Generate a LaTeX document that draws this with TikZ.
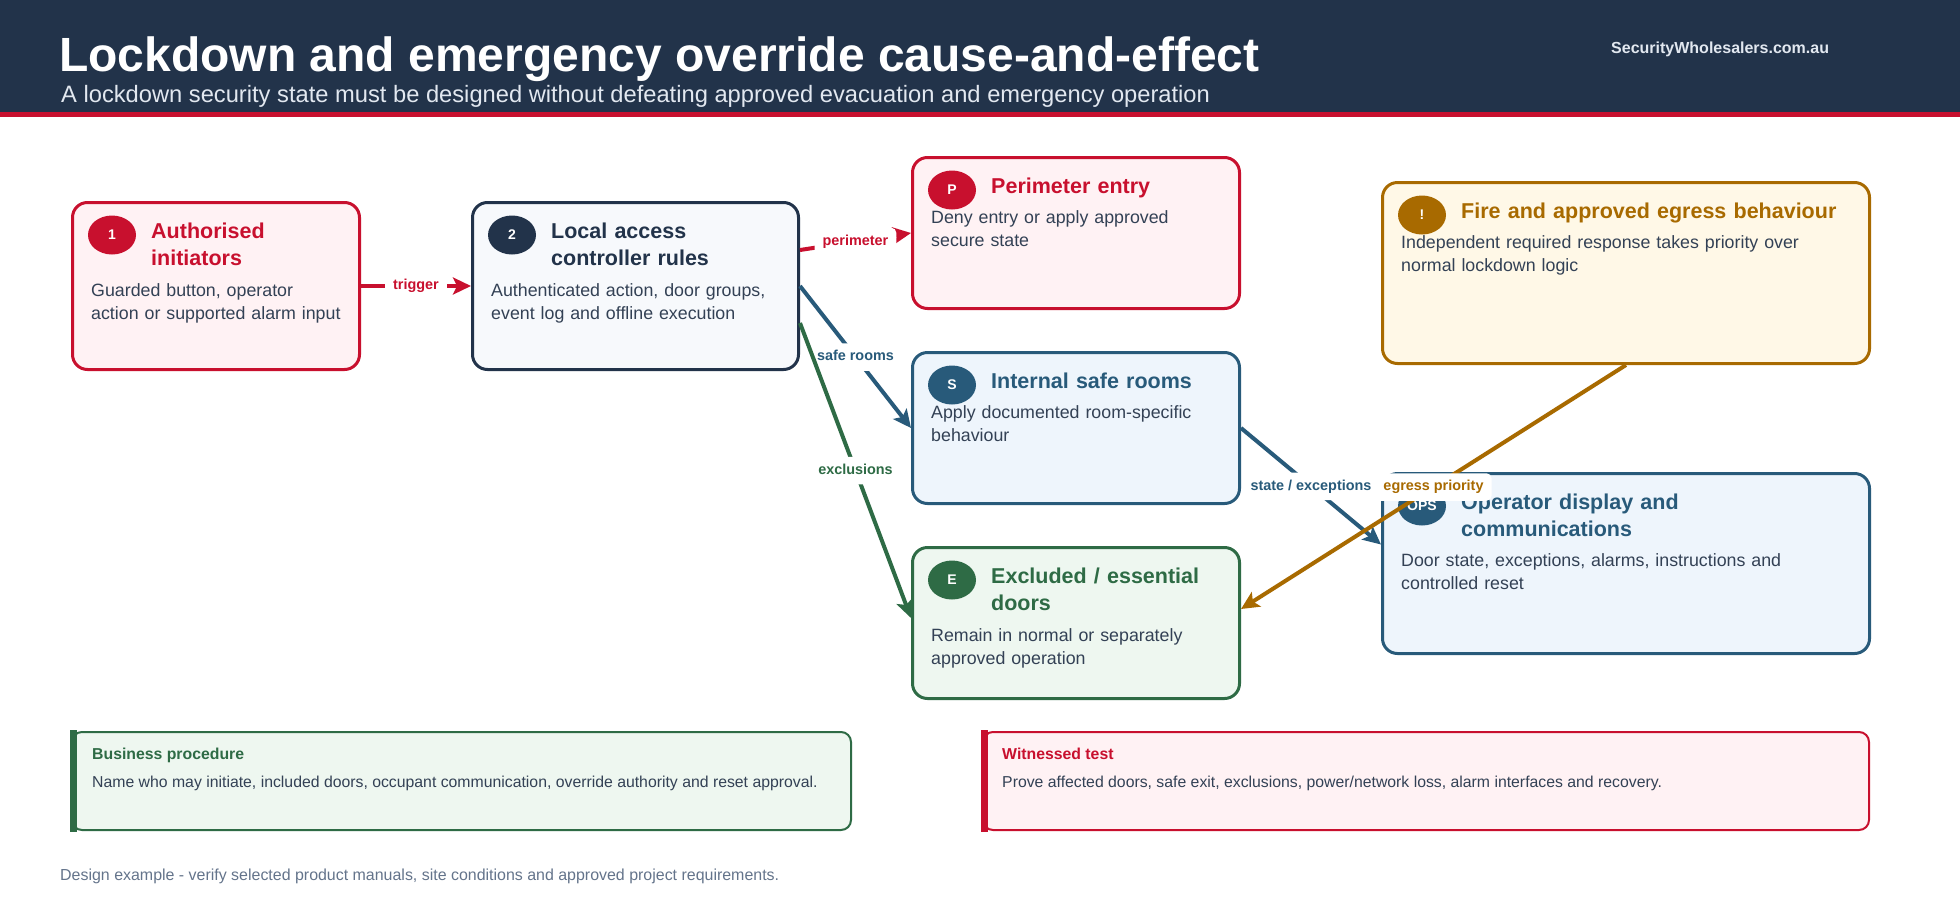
\documentclass[tikz,border=0pt]{standalone}
\usepackage{fontspec}
\setmainfont{Liberation Sans}
\usepackage{xcolor}
\usepackage{tikz}
\usetikzlibrary{arrows.meta, shapes.geometric, positioning}

\definecolor{navy}{HTML}{22334A}
\definecolor{alertred}{HTML}{C8102E}
\definecolor{steel}{HTML}{285A7A}
\definecolor{leaf}{HTML}{2E6B45}
\definecolor{amber}{HTML}{A86A00}
\definecolor{slate}{HTML}{334155}
\definecolor{mute}{HTML}{64748B}
\definecolor{pale}{HTML}{E2E8F0}
\definecolor{redfill}{HTML}{FFF2F4}
\definecolor{navyfill}{HTML}{F7F9FC}
\definecolor{steelfill}{HTML}{EEF5FC}
\definecolor{leaffill}{HTML}{EEF7F0}
\definecolor{amberfill}{HTML}{FFF8E7}

\begin{document}
\begin{tikzpicture}[
    x=1pt, y=-1pt,
    card/.style   = {rectangle, line width=3pt, rounded corners=15pt,
                     anchor=north west, inner sep=0pt},
    badge/.style  = {ellipse, minimum width=48pt, minimum height=39pt,
                     inner sep=0pt, text=white,
                     font=\bfseries\fontsize{14}{14}\selectfont},
    ctitle/.style = {anchor=base west, inner sep=0pt, text width=420pt,
                     align=left, font=\bfseries\fontsize{21.5}{27}\selectfont},
    cbody/.style  = {anchor=base west, inner sep=0pt, text width=440pt,
                     align=left, text=slate, font=\fontsize{17.8}{23}\selectfont},
    note/.style   = {rectangle, line width=2pt, rounded corners=10pt,
                     anchor=north west, inner sep=0pt, minimum height=98pt},
    ntitle/.style = {anchor=base west, inner sep=0pt,
                     font=\bfseries\fontsize{15.8}{18}\selectfont},
    nbody/.style  = {anchor=base west, inner sep=0pt, text=slate,
                     font=\fontsize{15.8}{18}\selectfont},
    link/.style   = {line width=4pt, -{Stealth[length=18pt, width=17pt, inset=4pt]}},
    tag/.style    = {fill=white, rounded corners=5pt, inner xsep=8pt, inner ysep=7pt,
                     text height=10.5pt, text depth=3pt,
                     font=\bfseries\fontsize{14.4}{14.4}\selectfont}
  ]
  \useasboundingbox (0,0) rectangle (1960,900);
  \fill[white] (0,0) rectangle (1960,900);

  \fill[navy] (0,0) rectangle (1960,112);
  \fill[alertred] (0,112) rectangle (1960,117);
  \node[anchor=base west, inner sep=0pt, text=white,
        font=\bfseries\fontsize{48}{48}\selectfont] (head) at (59,71)
        {Lockdown and emergency override cause-and-effect};
  \node[anchor=base west, inner sep=0pt, text=pale,
        font=\fontsize{23.7}{24}\selectfont] (sub) at (61,102)
        {A lockdown security state must be designed without defeating approved evacuation and emergency operation};
  \node[anchor=base west, inner sep=0pt, text=pale,
        font=\bfseries\fontsize{16}{16}\selectfont] (site) at (1611,53)
        {SecurityWholesalers.com.au};

  \node[card, draw=alertred, fill=redfill, minimum width=287pt, minimum height=167pt] (init) at (71,201) {};
  \node[card, draw=navy, fill=navyfill, minimum width=326pt, minimum height=167pt, right=110pt of init] (ctrl) {};
  \node[card, draw=alertred, fill=redfill, minimum width=327pt, minimum height=151pt] (perim) at (911,156) {};
  \node[card, draw=steel, fill=steelfill, minimum width=327pt, minimum height=151pt, below=41pt of perim] (safe) {};
  \node[card, draw=leaf, fill=leaffill, minimum width=327pt, minimum height=151pt, below=41pt of safe] (excl) {};
  \node[card, draw=amber, fill=amberfill, minimum width=487pt, minimum height=181pt] (fire) at (1381,181) {};
  \node[card, draw=steel, fill=steelfill, minimum width=487pt, minimum height=180pt, below=107pt of fire] (ops) {};

  \node[badge, fill=alertred] (initb) at ([shift={(41,34)}]init.north west) {1};
  \node[ctitle, text=alertred] (initt) at ([shift={(80,37)}]init.north west) {Authorised\\initiators};
  \node[cbody] (initd) at ([shift={(20,95)}]init.north west) {Guarded button, operator\\action or supported alarm input};

  \node[badge, fill=navy] (ctrlb) at ([shift={(41,34)}]ctrl.north west) {2};
  \node[ctitle, text=navy] (ctrlt) at ([shift={(80,37)}]ctrl.north west) {Local access\\controller rules};
  \node[cbody] (ctrld) at ([shift={(20,95)}]ctrl.north west) {Authenticated action, door groups,\\event log and offline execution};

  \node[badge, fill=alertred] (perimb) at ([shift={(41,34)}]perim.north west) {P};
  \node[ctitle, text=alertred] (perimt) at ([shift={(80,37)}]perim.north west) {Perimeter entry};
  \node[cbody] (perimd) at ([shift={(20,67)}]perim.north west) {Deny entry or apply approved\\secure state};

  \node[badge, fill=steel] (safeb) at ([shift={(41,34)}]safe.north west) {S};
  \node[ctitle, text=steel] (safet) at ([shift={(80,37)}]safe.north west) {Internal safe rooms};
  \node[cbody] (safed) at ([shift={(20,67)}]safe.north west) {Apply documented room-specific\\behaviour};

  \node[badge, fill=leaf] (exclb) at ([shift={(41,34)}]excl.north west) {E};
  \node[ctitle, text=leaf] (exclt) at ([shift={(80,37)}]excl.north west) {Excluded / essential\\doors};
  \node[cbody] (excld) at ([shift={(20,95)}]excl.north west) {Remain in normal or separately\\approved operation};

  \node[badge, fill=amber] (fireb) at ([shift={(41,34)}]fire.north west) {!};
  \node[ctitle, text=amber] (firet) at ([shift={(80,37)}]fire.north west) {Fire and approved egress behaviour};
  \node[cbody] (fired) at ([shift={(20,67)}]fire.north west) {Independent required response takes priority over\\normal lockdown logic};

  \node[badge, fill=steel] (opsb) at ([shift={(41,34)}]ops.north west) {OPS};
  \node[ctitle, text=steel] (opst) at ([shift={(80,37)}]ops.north west) {Operator display and\\communications};
  \node[cbody] (opsd) at ([shift={(20,94)}]ops.north west) {Door state, exceptions, alarms, instructions and\\controlled reset};

  \draw[link, alertred] (init) -- node[tag, text=alertred] {trigger} (ctrl);
  \draw[link, alertred] ([yshift=-49pt]ctrl.north east) -- node[tag, text=alertred] {perimeter} (perim.west);
  \draw[link, steel] (ctrl.east) -- node[tag, text=steel] {safe rooms} (safe.west);
  \draw[link, leaf] ([yshift=-37pt]ctrl.east) -- node[tag, text=leaf] {exclusions} ([yshift=5pt]excl.west);
  \draw[link, steel] (safe.east) -- node[tag, text=steel] {state / exceptions} ([yshift=19pt]ops.west);
  \draw[link, amber] (fire.south) -- node[tag, text=amber] {egress priority} ([yshift=14pt]excl.east);

  \node[note, draw=leaf, fill=leaffill, minimum width=779pt] (proc) at (71,731) {};
  \fill[leaf] ([shift={(-1,-1)}]proc.north west) rectangle ([shift={(6,1)}]proc.south west);
  \node[ntitle, text=leaf] (proct) at ([shift={(21,28)}]proc.north west) {Business procedure};
  \node[nbody] (procd) at ([shift={(21,56)}]proc.north west) {Name who may initiate, included doors, occupant communication, override authority and reset approval.};

  \node[note, draw=alertred, fill=redfill, minimum width=886pt] (test) at (982,731) {};
  \fill[alertred] ([shift={(-1,-1)}]test.north west) rectangle ([shift={(6,1)}]test.south west);
  \node[ntitle, text=alertred] (testt) at ([shift={(20,28)}]test.north west) {Witnessed test};
  \node[nbody] (testd) at ([shift={(20,56)}]test.north west) {Prove affected doors, safe exit, exclusions, power/network loss, alarm interfaces and recovery.};

  \node[anchor=base west, inner sep=0pt, text=mute, font=\fontsize{15.95}{18}\selectfont] (foot) at (60,880)
        {Design example - verify selected product manuals, site conditions and approved project requirements.};
\end{tikzpicture}
\end{document}
